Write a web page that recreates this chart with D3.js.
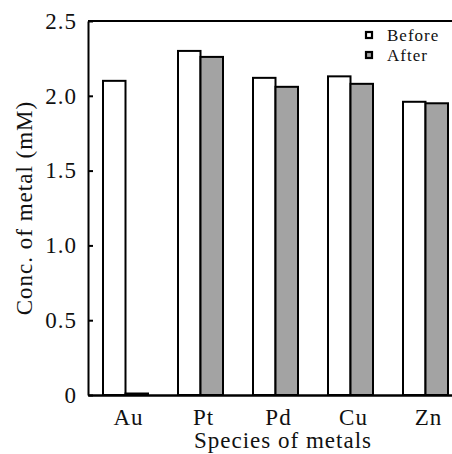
<!DOCTYPE html>
<html>
<head>
<meta charset="utf-8">
<script src="https://cdn.jsdelivr.net/npm/d3@7"></script>
<style>
  html, body { margin: 0; padding: 0; background: #fff; overflow: hidden; }
</style>
</head>
<body>
<svg id="chart" width="452" height="454"></svg>
<script>
const categories = ["Au", "Pt", "Pd", "Cu", "Zn"];
const seriesNames = ["Before", "After"];
const beforeValues = [2.10, 2.30, 2.12, 2.13, 1.96];
const afterValues = [0.01, 2.26, 2.06, 2.08, 1.95];
const yTicks = [0, 0.5, 1.0, 1.5, 2.0, 2.5];
const yTickLabels = ["0", "0.5", "1.0", "1.5", "2.0", "2.5"];
const xTitle = "Species of metals";
const yTitle = "Conc. of metal (mM)";

const colors = { Before: "#ffffff", After: "#a3a3a3" };
const FONT = "'Liberation Serif', 'Times New Roman', Times, 'DejaVu Serif', serif";

const svg = d3.select("#chart");
const margin = { left: 88, top: 21, bottom: 395, right: 463 };

const x0 = d3.scaleBand().domain(categories)
  .range([margin.left, margin.right]).paddingInner(0.4).paddingOuter(0.2);
const x1 = d3.scaleBand().domain(seriesNames).range([0, x0.bandwidth()]);
const y = d3.scaleLinear().domain([0, 2.5]).range([margin.bottom, margin.top]);

const rows = categories.map((c, i) => ({ cat: c, values: [
  { key: "Before", value: beforeValues[i] },
  { key: "After", value: afterValues[i] }
]}));

// bars
const g = svg.append("g");
g.selectAll("g.grp").data(rows).join("g")
  .attr("class", "grp")
  .attr("transform", d => `translate(${x0(d.cat)},0)`)
  .selectAll("rect").data(d => d.values).join("rect")
  .attr("x", d => x1(d.key))
  .attr("y", d => y(d.value))
  .attr("width", x1.bandwidth())
  .attr("height", d => y(0) - y(d.value))
  .attr("fill", d => colors[d.key])
  .attr("stroke", "#000")
  .attr("stroke-width", 2);

function styleText(sel, size) {
  sel.attr("font-family", FONT).style("font-family", FONT)
    .style("font-size", size + "px").style("letter-spacing", "1px").attr("fill", "#111");
}

// y axis
const yAxis = d3.axisLeft(y).tickValues(yTicks)
  .tickFormat((d, i) => yTickLabels[i]).tickSizeInner(-5).tickSizeOuter(0).tickPadding(11);
const ya = svg.append("g").attr("transform", `translate(${margin.left},0)`).call(yAxis);
ya.attr("font-family", FONT);
ya.select(".domain").attr("stroke", "#000").attr("stroke-width", 2);
ya.selectAll(".tick line").attr("stroke", "#000").attr("stroke-width", 2);
styleText(ya.selectAll(".tick text"), 23);

// x axis
const xAxis = d3.axisBottom(x0).tickSize(0).tickPadding(14);
const xa = svg.append("g").attr("transform", `translate(0,${margin.bottom})`).call(xAxis);
xa.attr("font-family", FONT);
xa.select(".domain").attr("stroke", "#000").attr("stroke-width", 2.5);
styleText(xa.selectAll(".tick text"), 23);
xa.selectAll(".tick text").attr("dx", "3px");

// top frame line
svg.append("line")
  .attr("x1", margin.left).attr("x2", margin.right)
  .attr("y1", margin.top).attr("y2", margin.top)
  .attr("stroke", "#000").attr("stroke-width", 2);

// titles
styleText(svg.append("text")
  .attr("x", 283).attr("y", 448)
  .attr("text-anchor", "middle")
  .text(xTitle), 23);

styleText(svg.append("text")
  .attr("transform", `translate(32,${(margin.top + margin.bottom) / 2}) rotate(-90)`)
  .attr("text-anchor", "middle")
  .text(yTitle), 23);

// legend
const legend = svg.append("g").attr("transform", "translate(366,32)");
seriesNames.forEach((s, i) => {
  const lg = legend.append("g").attr("transform", `translate(0,${i * 20})`);
  lg.append("rect").attr("x", 0).attr("y", 0).attr("width", 6).attr("height", 6)
    .attr("fill", colors[s]).attr("stroke", "#000").attr("stroke-width", 2.2);
  styleText(lg.append("text").attr("x", 21).attr("y", 3).attr("dy", "0.35em").text(s), 17);
});
</script>
</body>
</html>
